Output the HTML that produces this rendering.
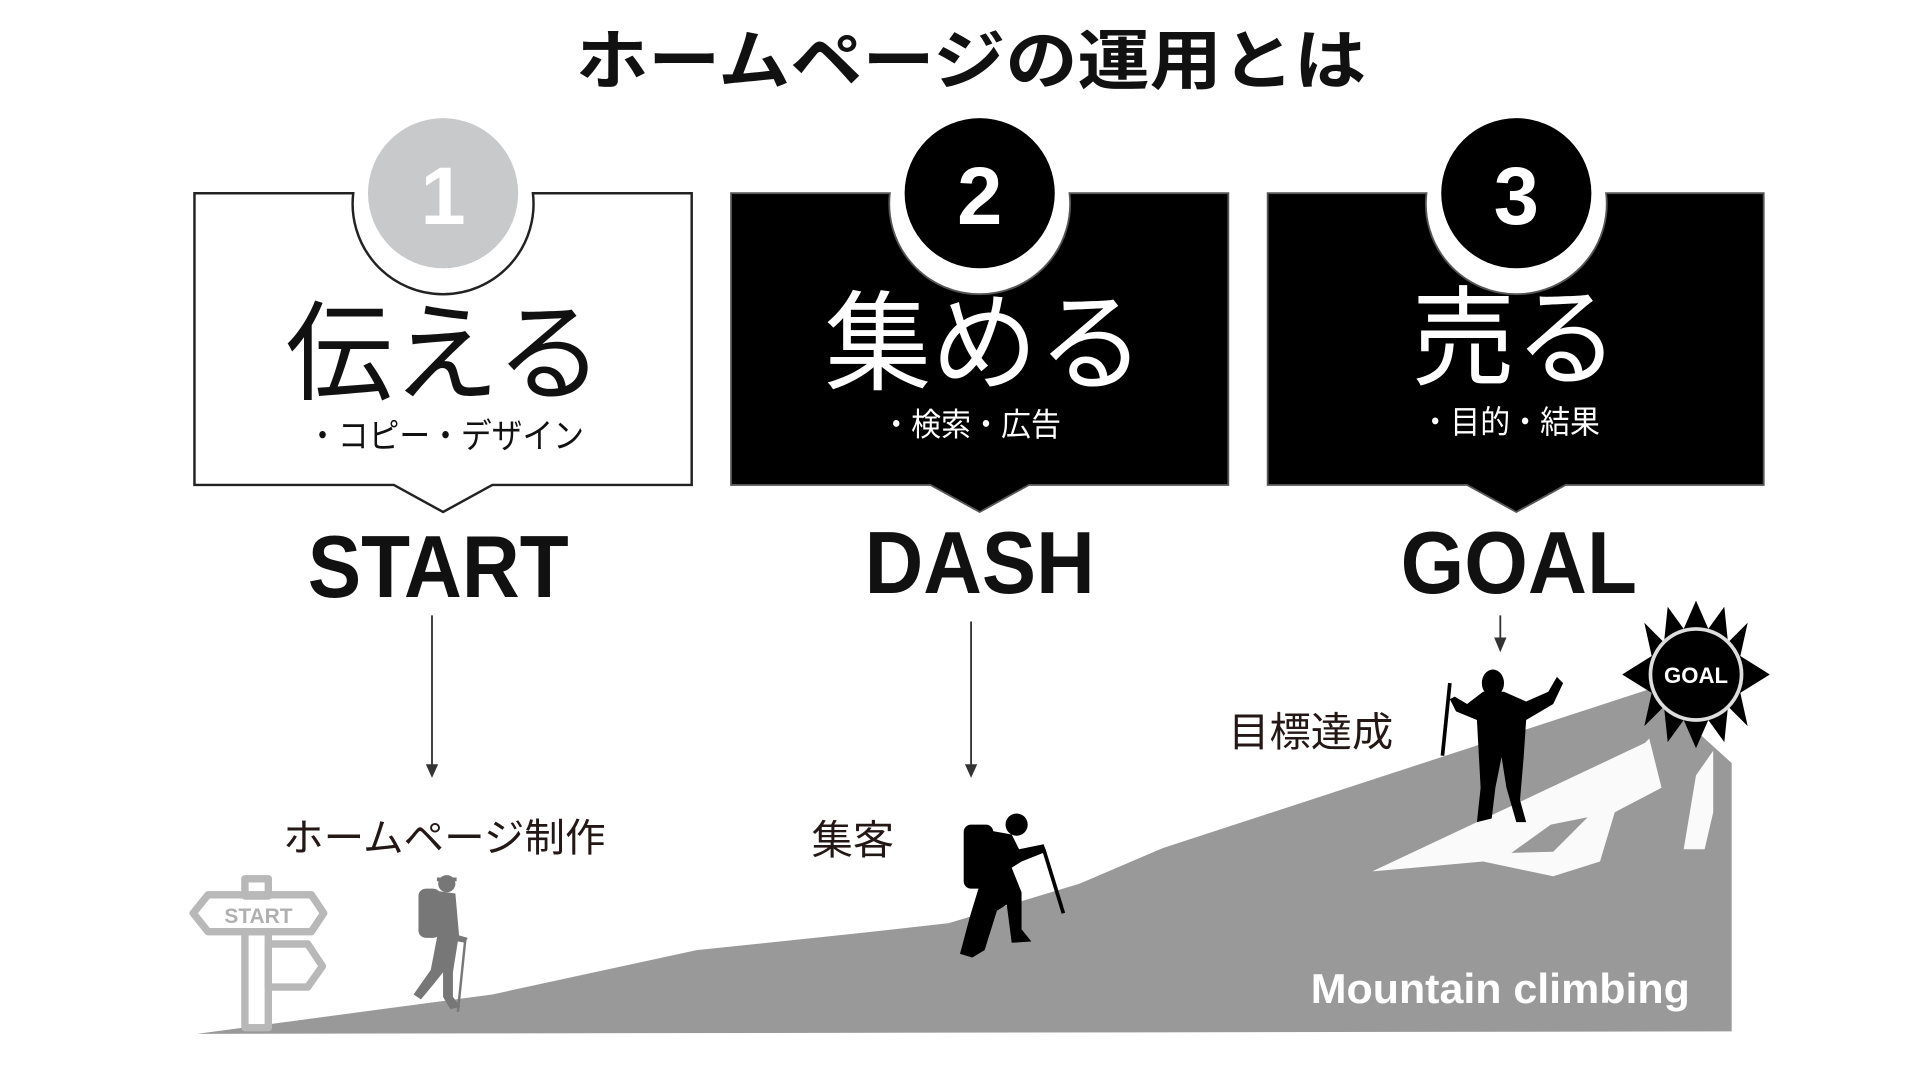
<!DOCTYPE html>
<html><head><meta charset="utf-8"><style>
html,body{margin:0;padding:0;background:#fff;width:1920px;height:1080px;overflow:hidden}
svg{display:block}
.jp{font-family:"Liberation Sans","Noto Sans CJK JP",sans-serif}
.en{font-family:"Liberation Sans",sans-serif}
</style></head><body>
<svg width="1920" height="1080" viewBox="0 0 1560 877.5" preserveAspectRatio="none" xmlns="http://www.w3.org/2000/svg">
<!-- title -->
<text x="789" y="68" text-anchor="middle" class="jp" font-size="53" font-weight="bold" fill="#111" textLength="642" lengthAdjust="spacingAndGlyphs">ホームページの運用とは</text>

<!-- Box 1 -->
<path d="M158,157 H287 A73.5,73.5 0 1 0 433,157 H562 V394 H400 L360,416 L320,394 H158 Z" fill="#fff" stroke="#222" stroke-width="2"/>
<circle cx="360" cy="157" r="61" fill="#c8c9ca"/>
<text x="360" y="182" text-anchor="middle" class="en" font-size="66" font-weight="bold" fill="#fff">1</text>
<text x="361" y="318" text-anchor="middle" class="jp" font-size="88" fill="#111" textLength="258" lengthAdjust="spacingAndGlyphs">伝える</text>
<text x="362" y="364" text-anchor="middle" class="jp" font-size="28" fill="#111" textLength="225" lengthAdjust="spacingAndGlyphs">・コピー・デザイン</text>

<!-- Box 2 -->
<path d="M594,157 H723 A73.5,73.5 0 1 0 869,157 H998 V394 H836 L796,416 L756,394 H594 Z" fill="#000" stroke="#555" stroke-width="1.5"/>
<circle cx="796" cy="157" r="61" fill="#000"/>
<text x="796" y="182" text-anchor="middle" class="en" font-size="66" font-weight="bold" fill="#fff">2</text>
<text x="800" y="310" text-anchor="middle" class="jp" font-size="88" fill="#fff" textLength="260" lengthAdjust="spacingAndGlyphs">集める</text>
<text x="789" y="354" text-anchor="middle" class="jp" font-size="26" fill="#fff" textLength="146" lengthAdjust="spacingAndGlyphs">・検索・広告</text>

<!-- Box 3 -->
<path d="M1030,157 H1159 A73.5,73.5 0 1 0 1305,157 H1433 V394 H1272 L1232,416 L1192,394 H1030 Z" fill="#000" stroke="#555" stroke-width="1.5"/>
<circle cx="1232" cy="157" r="61" fill="#000"/>
<text x="1232" y="182" text-anchor="middle" class="en" font-size="66" font-weight="bold" fill="#fff">3</text>
<text x="1231" y="306" text-anchor="middle" class="jp" font-size="88" fill="#fff" textLength="168" lengthAdjust="spacingAndGlyphs">売る</text>
<text x="1227" y="352" text-anchor="middle" class="jp" font-size="26" fill="#fff" textLength="146" lengthAdjust="spacingAndGlyphs">・目的・結果</text>

<!-- headings -->
<text x="356" y="485" text-anchor="middle" class="en" font-size="72" font-weight="bold" fill="#111" textLength="212" lengthAdjust="spacingAndGlyphs">START</text>
<text x="796" y="482" text-anchor="middle" class="en" font-size="72" font-weight="bold" fill="#111" textLength="187" lengthAdjust="spacingAndGlyphs">DASH</text>
<text x="1234" y="482" text-anchor="middle" class="en" font-size="72" font-weight="bold" fill="#111" textLength="192" lengthAdjust="spacingAndGlyphs">GOAL</text>

<!-- arrows -->
<g stroke="#333" stroke-width="1.5">
<line x1="351" y1="500" x2="351" y2="623"/>
<line x1="789" y1="505" x2="789" y2="623"/>
<line x1="1219" y1="500" x2="1219" y2="520"/>
</g>
<g fill="#333">
<polygon points="346,621 356,621 351,632"/>
<polygon points="784,621 794,621 789,632"/>
<polygon points="1214,518 1224,518 1219,530"/>
</g>

<!-- labels -->
<text x="361" y="692" text-anchor="middle" class="jp" font-size="32" fill="#231815" textLength="262" lengthAdjust="spacingAndGlyphs">ホームページ制作</text>
<text x="693" y="694" text-anchor="middle" class="jp" font-size="33" fill="#231815" textLength="67" lengthAdjust="spacingAndGlyphs">集客</text>
<text x="1065" y="606" text-anchor="middle" class="jp" font-size="33" fill="#231815" textLength="134" lengthAdjust="spacingAndGlyphs">目標達成</text>

<!-- mountain -->
<polygon points="160,840 400,808 566,772 700,758 771,750 877,718 945,689 1340,560 1385,600 1407,620 1407,838 160,840" fill="#999"/>
<!-- snow -->
<path d="M1115,708 L1200,668 L1340,602 L1320,640 L1262,668 L1300,642 L1340,600 L1350,640 L1312,660 L1300,700 L1262,712 L1205,700 Z" fill="#fafafa"/>
<path d="M1228,693 L1260,670 L1290,664 L1262,692 Z" fill="#999"/>
<path d="M1368,690 L1378,630 L1392,610 L1392,660 L1385,690 Z" fill="#fafafa"/>
<text x="1219" y="815" text-anchor="middle" class="en" font-size="34" font-weight="bold" fill="#fff" textLength="308" lengthAdjust="spacingAndGlyphs">Mountain climbing</text>

<!-- sun -->
<g transform="translate(1378,548)">
<polygon fill="#000" points="0,-60 10,-37 23,-55 26,-26 42,-42 36,-15 60,0 36,15 42,42 26,26 23,55 10,37 0,60 -10,37 -23,55 -26,26 -42,42 -36,15 -60,0 -36,-15 -42,-42 -26,-26 -23,-55 -10,-37"/>
<circle r="37" fill="#000" stroke="#ddd" stroke-width="3"/>
<text x="0" y="7" text-anchor="middle" class="en" font-size="18" font-weight="bold" fill="#fff">GOAL</text>
</g>

<!-- signpost -->
<g fill="none" stroke="#b8b8b8" stroke-width="6" stroke-linejoin="round">
<rect x="199" y="714" width="19" height="14"/>
<polygon points="169,727 253,727 263,742 253,757 169,757 157,742"/>
<rect x="199" y="757" width="19" height="78"/>
<polygon points="218,767 250,767 262,785 250,802 218,802"/>
</g>
<text x="210" y="750" text-anchor="middle" class="en" font-size="17" font-weight="bold" fill="#b0b0b0">START</text>

<!-- hiker 1 (gray) -->
<g fill="#777">
<circle cx="363" cy="718" r="7"/>
<path d="M355,713 h16 v3 h-16z"/>
<rect x="340" y="722" width="18" height="40" rx="6"/>
<path d="M356,724 L370,726 L373,760 L380,762 L378,766 L372,765 L368,790 L368,810 L374,818 L366,820 L360,810 L360,790 L352,800 L342,812 L336,808 L350,788 L355,762 Z"/>
</g>
<line x1="378" y1="764" x2="372" y2="822" stroke="#777" stroke-width="2"/>

<!-- hiker 2 (black) -->
<g fill="#000">
<circle cx="826" cy="670" r="9"/>
<rect x="783" y="670" width="24" height="52" rx="6"/>
<path d="M805,675 L822,678 L828,690 L848,686 L850,692 L830,700 L822,705 L830,725 L830,755 L838,765 L822,766 L818,735 L810,740 L800,772 L790,778 L780,775 L788,745 L795,722 L800,700 Z"/>
</g>
<line x1="848" y1="690" x2="864" y2="742" stroke="#000" stroke-width="3"/>

<!-- hiker 3 (black) -->
<g fill="#000">
<ellipse cx="1213" cy="555" rx="9" ry="11"/>
<path d="M1205,562 L1222,562 L1240,570 L1258,562 L1265,550 L1270,555 L1262,572 L1240,585 L1238,615 L1235,650 L1240,668 L1232,668 L1224,640 L1220,615 L1215,640 L1212,665 L1200,668 L1203,640 L1200,585 L1183,578 L1178,568 L1182,566 L1192,572 Z"/>
</g>
<line x1="1178" y1="555" x2="1172" y2="614" stroke="#000" stroke-width="3"/>
</svg>
</body></html>
